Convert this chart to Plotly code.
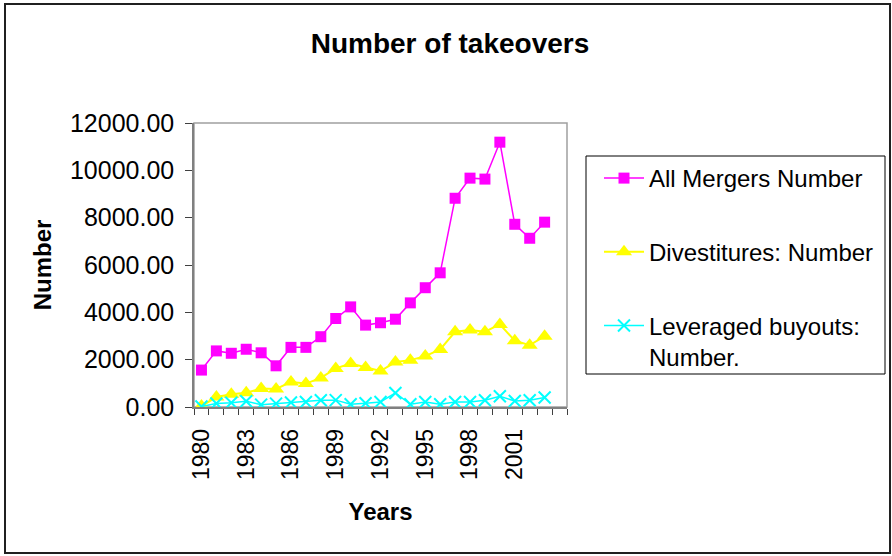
import plotly.graph_objects as go

years = list(range(1980, 2004))
all_mergers = [1560, 2370, 2270, 2440, 2290, 1740, 2520, 2520, 2970, 3740, 4230,
               3460, 3560, 3710, 4400, 5040, 5670, 8820, 9670, 9630, 11190, 7720, 7130, 7810]
divestitures = [40, 420, 540, 600, 780, 760, 1060, 990, 1230, 1630, 1840,
                1670, 1520, 1900, 1980, 2150, 2430, 3180, 3250, 3180, 3490, 2800, 2610, 2990]
lbo = [20, 150, 180, 240, 100, 144, 190, 212, 283, 290, 114,
       160, 212, 593, 114, 212, 114, 212, 212, 283, 453, 254, 283, 398]
tick_years = [1980, 1983, 1986, 1989, 1992, 1995, 1998, 2001]
y_ticks = [0, 2000, 4000, 6000, 8000, 10000, 12000]

W, H = 892, 556
L, R, T, B = 194, 325, 123, 149
pw, ph = W - L - R, H - T - B

def px(x):
    return (x - L) / pw

def py(y):
    return (H - B - y) / ph

FONT = "Liberation Sans, Arial, sans-serif"

fig = go.Figure()
fig.add_trace(go.Scatter(
    x=years, y=all_mergers, name="All Mergers Number", mode="lines+markers",
    line=dict(color="#FF00FF", width=1.5),
    marker=dict(symbol="square", size=11, color="#FF00FF"),
    legendgroup="a"))
fig.add_trace(go.Scatter(
    x=years, y=divestitures, name="Divestitures: Number", mode="lines+markers",
    line=dict(color="#FFFF00", width=2),
    marker=dict(symbol="triangle-up", size=14, color="#FFFF00"),
    legendgroup="b"))
fig.add_trace(go.Scatter(
    x=years, y=lbo, name="Leveraged buyouts:<br>Number.", mode="lines+markers",
    line=dict(color="#00FFFF", width=1.5),
    marker=dict(symbol="x-thin", size=12, color="#00FFFF",
                line=dict(color="#00FFFF", width=2)),
    legendgroup="c"))

fig.update_layout(
    width=W, height=H,
    margin=dict(l=L, r=R, t=T, b=B, pad=0),
    paper_bgcolor="white", plot_bgcolor="white",
    font=dict(family=FONT, size=24, color="black"),
    title=dict(text="<b>Number of takeovers</b>", x=450 / W, xanchor="center",
               y=1 - 43 / H, yanchor="middle", xref="container",
               font=dict(size=28, family=FONT, color="black")),
    showlegend=True,
    legend=dict(x=px(599), y=py(156), xanchor="left", yanchor="top",
                bgcolor="rgba(0,0,0,0)", borderwidth=0,
                font=dict(size=24, family=FONT), tracegroupgap=39.5,
                valign="top", itemwidth=40),
    xaxis=dict(range=[1979.5, 2004.5], tickmode="array", tickvals=tick_years,
               ticktext=[str(t) for t in tick_years], tickangle=-90,
               ticks="", showgrid=False, zeroline=False,
               showline=True, linecolor="#808080", linewidth=1.5,
               tickfont=dict(size=23), ticklabelstandoff=11,
               minor=dict(ticks="outside", ticklen=6, tick0=1979.5, dtick=1,
                          tickcolor="#404040", tickwidth=1, showgrid=False),
               title=dict(text="<b>Years</b>", font=dict(size=24), standoff=24)),
    yaxis=dict(range=[0, 12000], tickmode="array", tickvals=y_ticks,
               ticktext=[f"{v:.2f}" for v in y_ticks],
               ticks="outside", ticklen=7, tickcolor="#404040", tickwidth=1,
               showgrid=False, zeroline=False,
               showline=True, linecolor="#808080", linewidth=1.5,
               tickfont=dict(size=25), ticklabelstandoff=6,
               title=dict(text="<b>Number</b>", font=dict(size=24), standoff=12)),
    shapes=[
        dict(type="rect", xref="paper", yref="paper", x0=0, x1=1, y0=0, y1=1,
             line=dict(color="#a0a0a0", width=1.5), layer="below"),
        dict(type="rect", xref="paper", yref="paper", x0=px(586), x1=px(885),
             y0=py(374), y1=py(156), line=dict(color="black", width=1)),
        dict(type="rect", xref="paper", yref="paper", x0=px(5), x1=px(890),
             y0=py(553), y1=py(4), line=dict(color="#202020", width=2)),
    ],
)

fig.write_html("out.html", config={"displayModeBar": False},
               post_script="document.body.style.margin='0';document.body.style.padding='0';")
